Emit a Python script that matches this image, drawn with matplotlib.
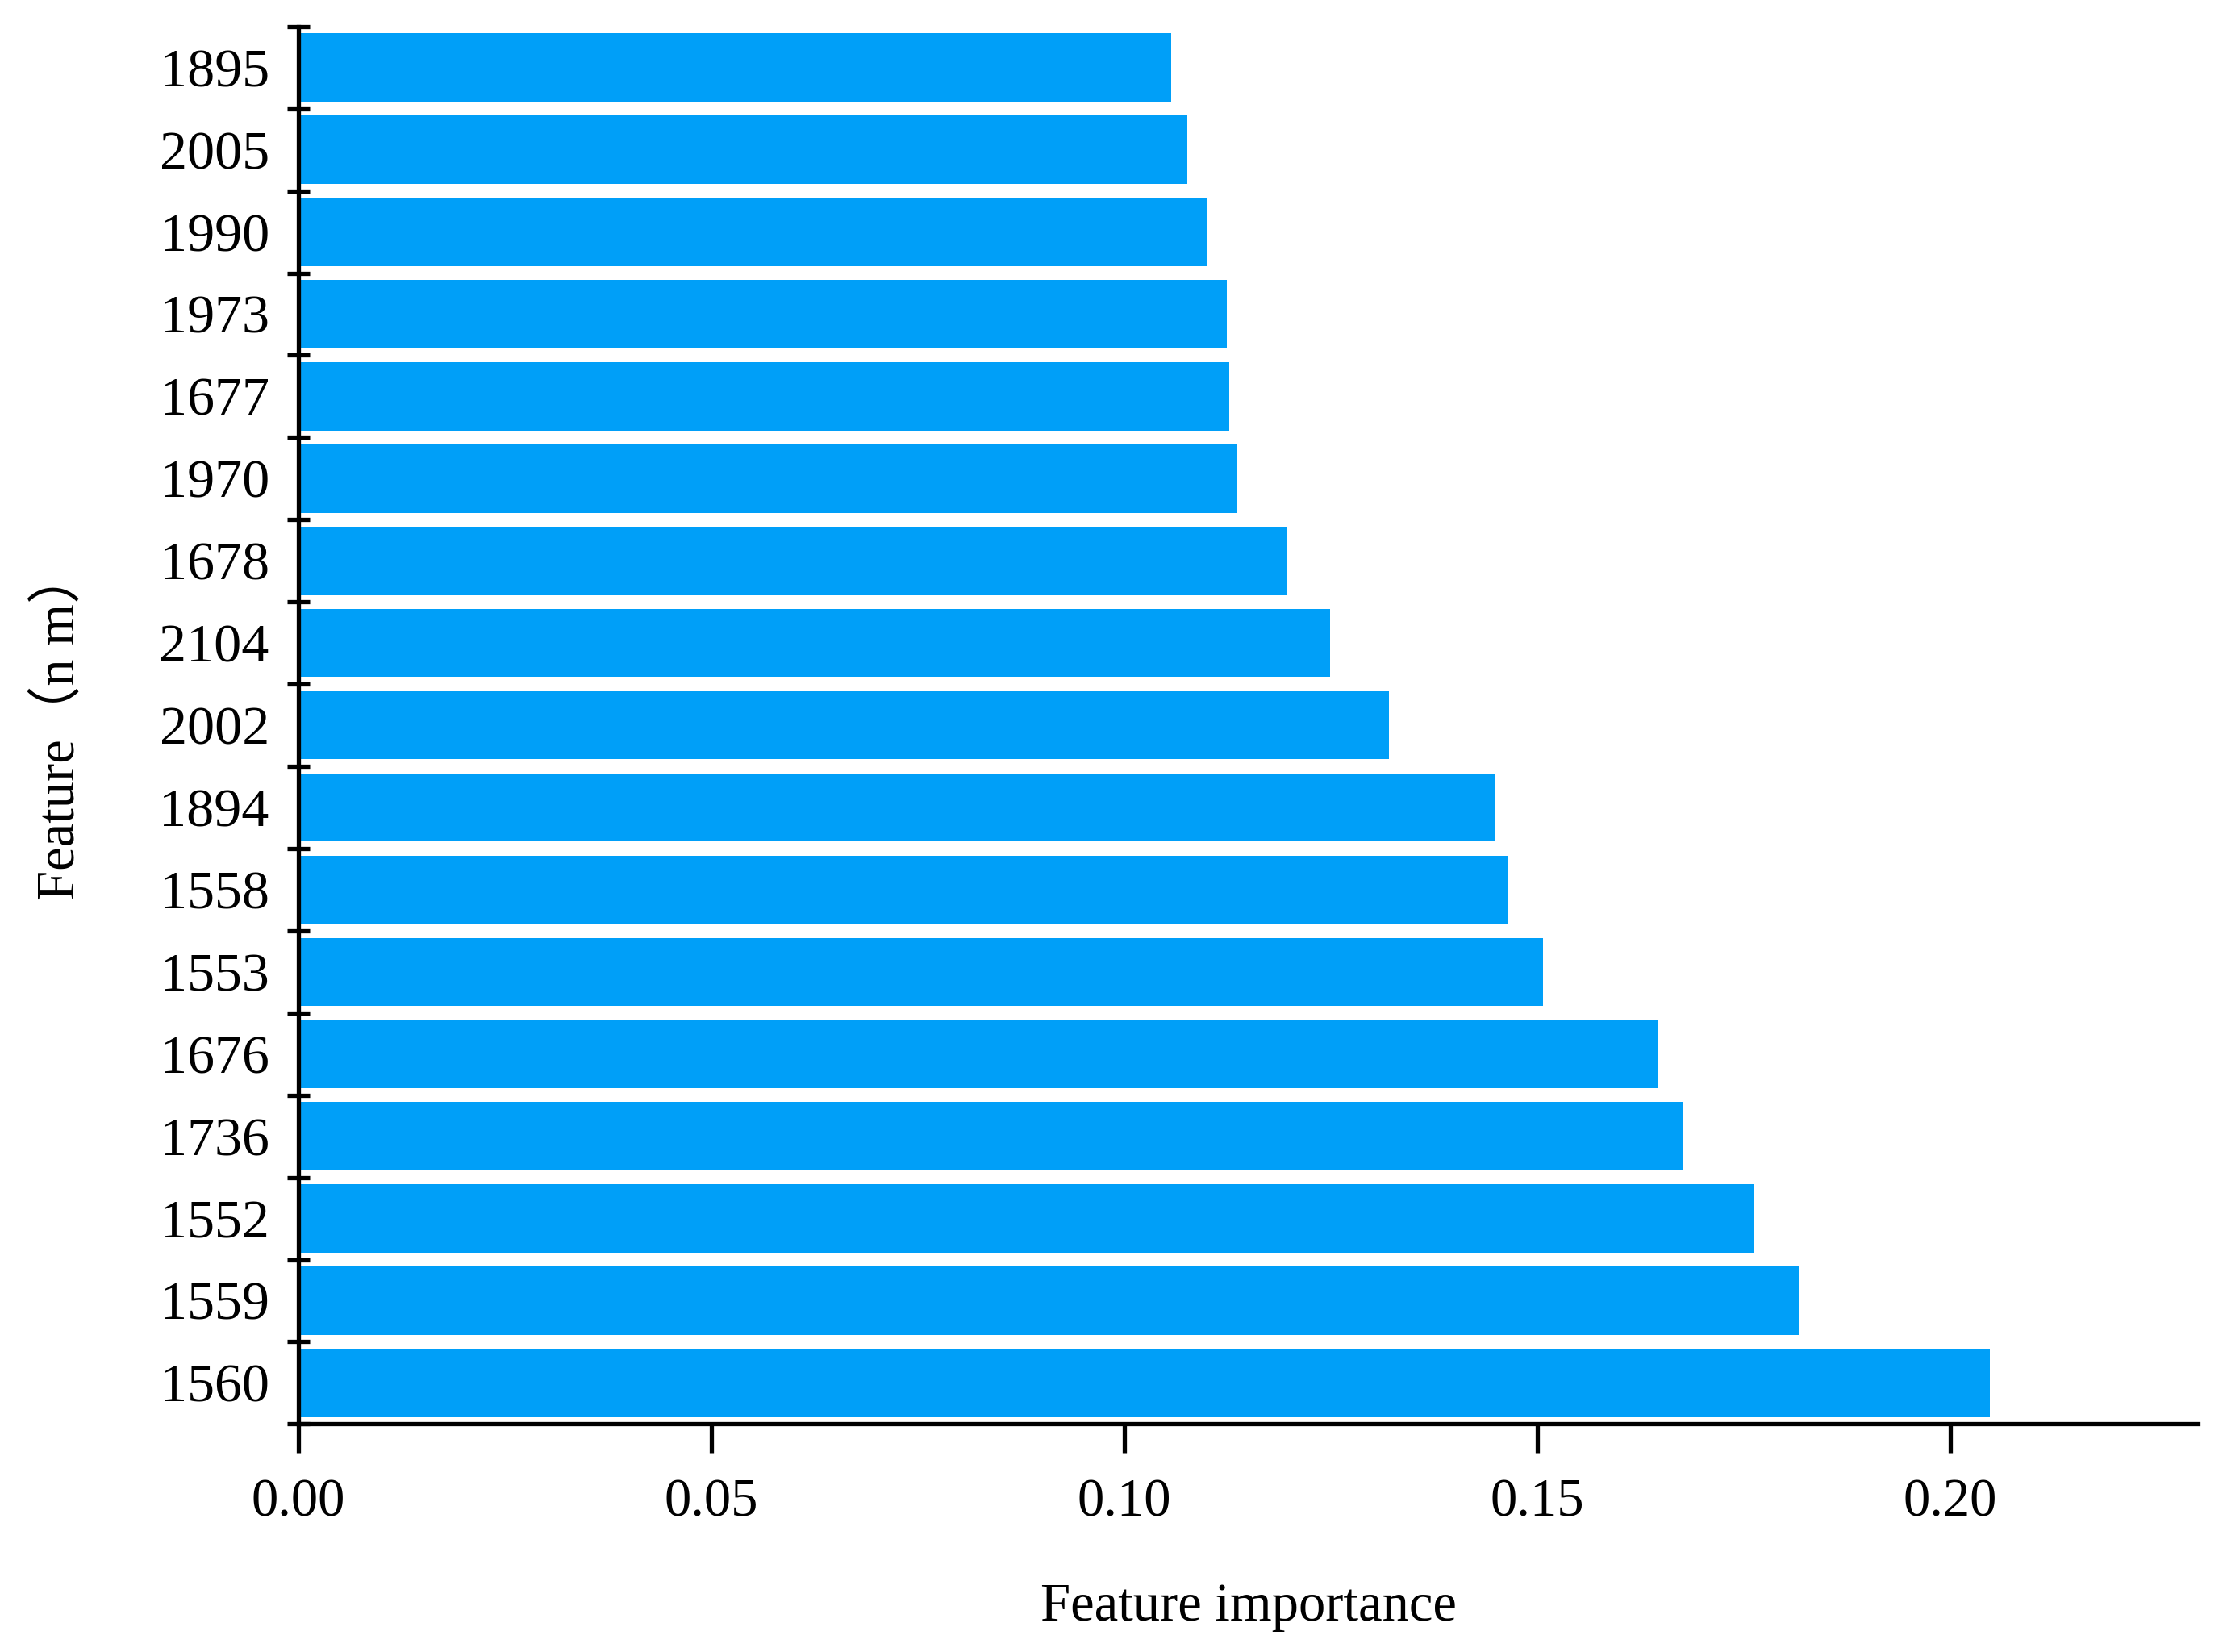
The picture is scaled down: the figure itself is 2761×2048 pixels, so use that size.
import numpy as np
import matplotlib.pyplot as plt

features = ["1560", "1559", "1552", "1736", "1676", "1553", "1558", "1894",
            "2002", "2104", "1678", "1970", "1677", "1973", "1990", "2005", "1895"]
importance = [0.2048, 0.1816, 0.1763, 0.1677, 0.1646, 0.1507, 0.1464, 0.1448,
              0.1320, 0.1249, 0.1196, 0.1136, 0.1127, 0.1124, 0.1101, 0.1076, 0.1057]
x_ticks = [0.00, 0.05, 0.10, 0.15, 0.20]

plt.rcParams['font.family'] = ['Liberation Serif', 'Noto Sans CJK SC']

fig = plt.figure(figsize=(13.805, 10.24), dpi=200)
ax = fig.add_axes([0.134, 0.138, 0.853, 0.846])

pos = np.arange(len(features))
ax.barh(pos, importance, height=0.83, color="#009FF8")

ax.set_xlim(0, 0.23)
ax.set_ylim(-0.5, len(features) - 0.5)

ax.set_xticks(x_ticks, [f"{t:.2f}" for t in x_ticks])
ax.set_yticks(pos, features)
ax.set_yticks(np.arange(len(features) + 1) - 0.5, minor=True)

ax.tick_params(axis="x", direction="out", length=13, width=1.9, pad=11, labelsize=24)
ax.tick_params(axis="y", which="major", length=0, pad=13, labelsize=24.5)
ax.tick_params(axis="y", which="minor", direction="inout", length=10, width=1.9)

for s in ["top", "right"]:
    ax.spines[s].set_visible(False)
for s in ["left", "bottom"]:
    ax.spines[s].set_linewidth(1.9)

ax.set_xlabel("Feature importance", fontsize=24, labelpad=25)
ax.set_ylabel("Feature（n m）", fontsize=24, labelpad=33)

fig.savefig("out.png", dpi=200)
